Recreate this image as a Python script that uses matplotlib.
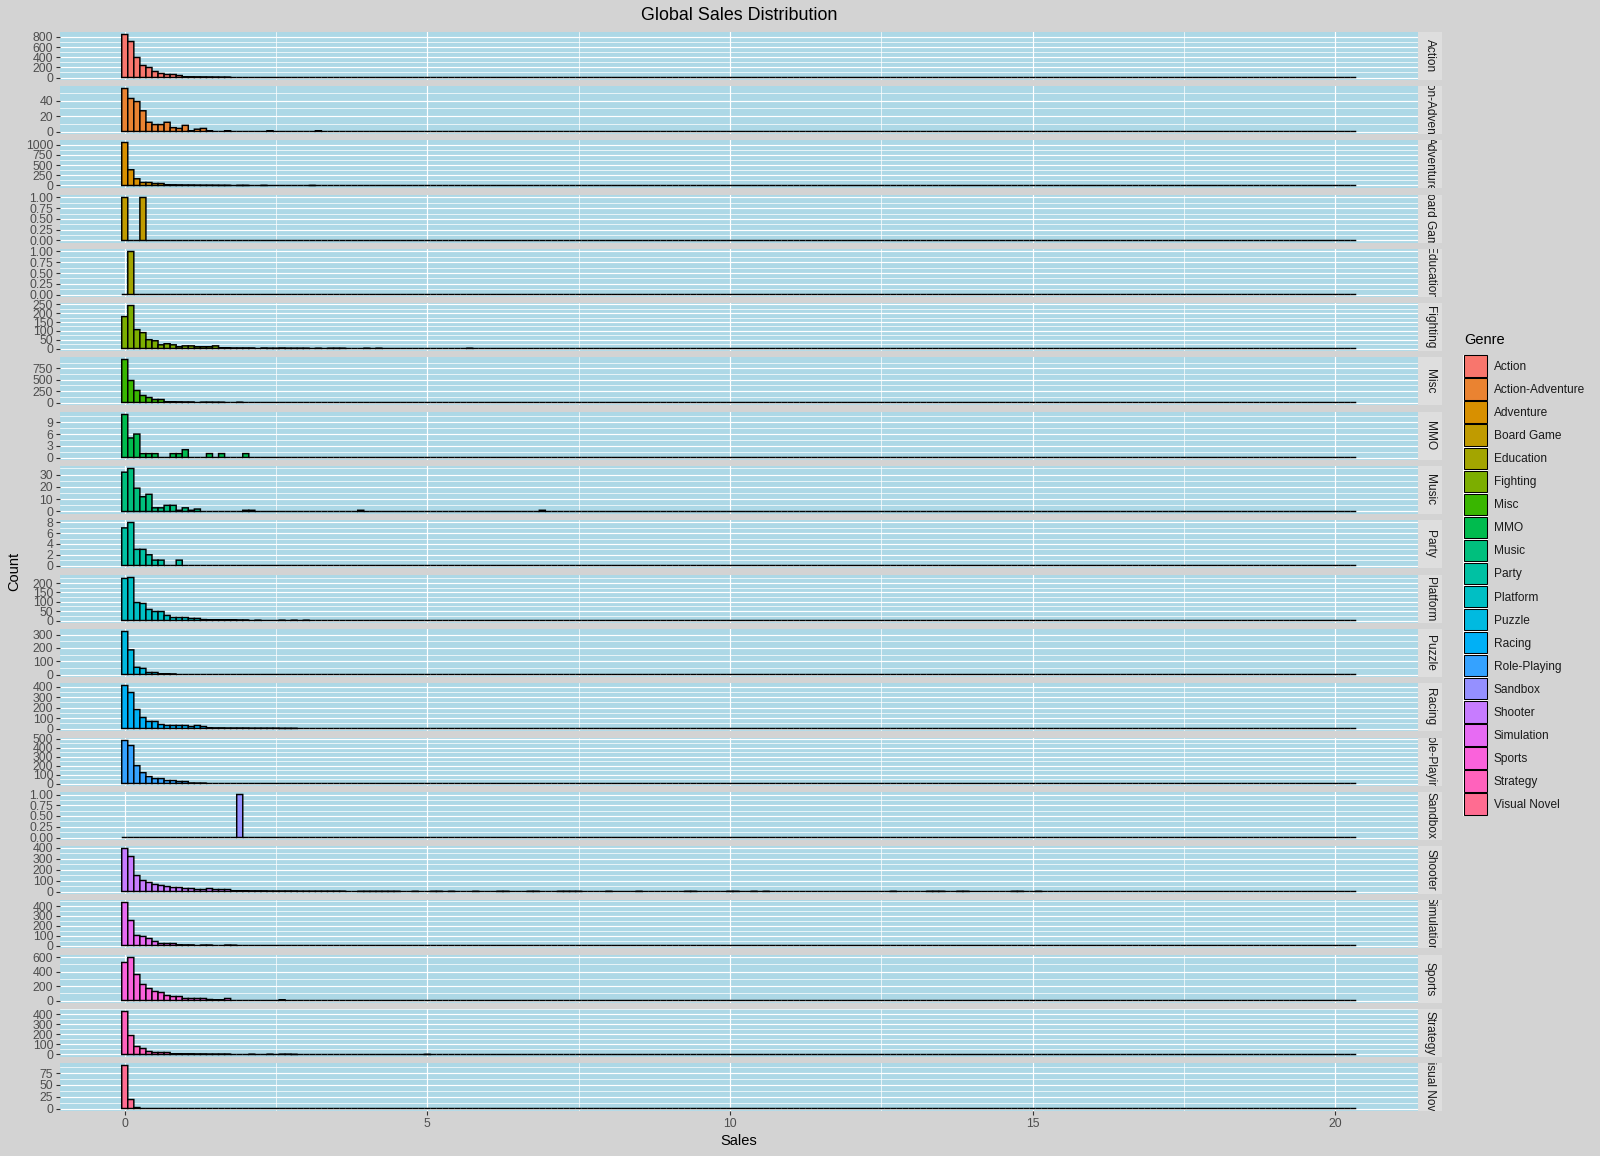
"""
Global sales distribution - faceted histogram per genre (ggplot-like look)
"""
import numpy as np
import matplotlib
matplotlib.use('Agg')
import matplotlib.pyplot as plt
from matplotlib.ticker import MultipleLocator, FormatStrFormatter
from matplotlib.patches import Rectangle

plt.rcParams['font.family'] = ['Liberation Sans', 'DejaVu Sans']

# ---- data: histogram counts per 0.1 sales bin (bin k centred at k*0.1) ----
BIN_WIDTH = 0.1
N_BINS = 204  # last bin centred at 20.3

genres = ['Action', 'Action-Adventure', 'Adventure', 'Board Game', 'Education',
          'Fighting', 'Misc', 'MMO', 'Music', 'Party', 'Platform', 'Puzzle',
          'Racing', 'Role-Playing', 'Sandbox', 'Shooter', 'Simulation', 'Sports',
          'Strategy', 'Visual Novel']

genre_colors = ['#F8766D', '#EA8331', '#D89000', '#C09B00', '#A3A500', '#7CAE00',
                '#39B600', '#00BB4E', '#00BF7D', '#00C1A3', '#00BFC4', '#00BAE0',
                '#00B0F6', '#35A2FF', '#9590FF', '#C77CFF', '#E76BF3', '#FA62DB',
                '#FF62BC', '#FF6C91']

# y tick spacing per facet
tick_steps = [200, 20, 250, 0.25, 0.25, 50, 250, 3, 10, 2,
              50, 100, 100, 100, 0.25, 100, 100, 200, 100, 25]

# leading bins (from 0) and sparse bins further out {bin index: count}
action_counts = [846, 708, 394, 236, 197, 118, 79, 59, 59, 39, 12, 10, 9, 8, 7, 6, 5, 5]
action_tail = {}

action_adventure_counts = [56, 43, 39, 27, 12, 9, 9, 12, 5, 4, 8, 1, 3, 4, 1, 0, 0, 1]
action_adventure_tail = {24: 1, 32: 1}

adventure_counts = [1050, 385, 164, 74, 74, 49, 49, 15, 12, 10, 8, 8, 6, 5, 5, 4, 3, 3,
                    0, 2, 2, 0, 0, 2]
adventure_tail = {31: 1}

board_game_counts = [1, 0, 0, 1]
board_game_tail = {}

education_counts = [0, 1]
education_tail = {}

fighting_counts = [181, 244, 107, 90, 50, 44, 21, 27, 21, 10, 15, 15, 10, 10, 10, 15,
                   3, 3, 2, 2, 2, 2, 0, 2, 1, 1, 2, 1, 1, 1, 1, 0, 1, 0, 1, 1, 1]
fighting_tail = {40: 1, 42: 1, 57: 1}

misc_counts = [948, 485, 265, 154, 110, 66, 66, 15, 12, 10, 8, 8, 0, 5, 5, 4, 4, 0, 0, 4]
misc_tail = {}

mmo_counts = [11, 5, 6, 1, 1, 1, 0, 0, 1, 1, 2, 0, 0, 0, 1, 0, 1, 0, 0, 0, 1]
mmo_tail = {}

music_counts = [32, 35, 19, 12, 14, 3, 3, 5, 5, 1, 3, 1, 2, 0, 0, 0, 0, 0, 0, 0, 1, 1]
music_tail = {39: 1, 69: 1}

party_counts = [7, 8, 3, 3, 2, 1, 1, 0, 0, 1]
party_tail = {}

platform_counts = [225, 230, 96, 91, 59, 48, 48, 27, 16, 16, 16, 11, 11,
                   5, 4, 4, 3, 3, 3, 2, 2]
platform_tail = {22: 1, 26: 1, 28: 1, 30: 1}

puzzle_counts = [323, 185, 54, 46, 15, 15, 5, 4, 3]
puzzle_tail = {}

racing_counts = [410, 343, 181, 105, 67, 67, 38, 29, 29, 29, 29, 19, 29, 19,
                 5, 4, 4, 3, 3, 3, 3, 2, 2, 2, 2, 2, 1, 1, 1]
racing_tail = {}

role_playing_counts = [480, 424, 199, 121, 77, 55, 55, 33, 33, 22, 22, 4, 3, 3]
role_playing_tail = {}

sandbox_counts = []
sandbox_tail = {19: 1}

shooter_counts = [391, 318, 145, 100, 82, 64, 55, 45, 36, 36, 27, 27, 18, 18, 27, 18, 18, 18,
                  6, 5, 5, 4, 4, 4, 3, 3, 3, 3, 3, 2, 2, 2, 2, 2, 2, 2, 2]
shooter_tail = {39: 1, 40: 1, 41: 1, 42: 1, 43: 1, 44: 1, 45: 1, 48: 1, 51: 1, 52: 1,
                54: 1, 58: 1, 62: 1, 63: 1, 67: 1, 68: 1, 72: 1, 73: 1, 74: 1, 75: 1,
                80: 1, 85: 1, 93: 1, 94: 1, 100: 1, 101: 1, 104: 1, 106: 1, 127: 1,
                133: 1, 134: 1, 135: 1, 138: 1, 139: 1, 147: 1, 148: 1, 151: 1}

simulation_counts = [437, 254, 102, 92, 71, 41, 20, 20, 20, 5, 4, 4, 0, 3, 3, 0, 0, 3, 2]
simulation_tail = {}

sports_counts = [527, 596, 360, 222, 166, 125, 111, 69, 55, 55, 28, 28, 28, 28, 14, 10, 10, 28]
sports_tail = {26: 10}

strategy_counts = [430, 190, 80, 60, 30, 20, 20, 20, 7, 6, 5, 5, 4, 4, 3, 3, 3, 3]
strategy_tail = {21: 2, 24: 2, 26: 2, 27: 2, 28: 1, 50: 1}

visual_novel_counts = [91, 19, 2]
visual_novel_tail = {}

head_counts = [action_counts, action_adventure_counts, adventure_counts, board_game_counts,
               education_counts, fighting_counts, misc_counts, mmo_counts, music_counts,
               party_counts, platform_counts, puzzle_counts, racing_counts,
               role_playing_counts, sandbox_counts, shooter_counts, simulation_counts,
               sports_counts, strategy_counts, visual_novel_counts]
tail_counts = [action_tail, action_adventure_tail, adventure_tail, board_game_tail,
               education_tail, fighting_tail, misc_tail, mmo_tail, music_tail,
               party_tail, platform_tail, puzzle_tail, racing_tail,
               role_playing_tail, sandbox_tail, shooter_tail, simulation_tail,
               sports_tail, strategy_tail, visual_novel_tail]

# ---- layout (pixels) ----
W, H = 1600, 1156
BG = '#D3D3D3'
PANEL_BG = '#ADD8E6'
STRIP_BG = '#DEDEDE'
PANEL_L, PANEL_R = 60, 1418
PANEL_T = 32
PANEL_H = 47.3
GAP = 7
STRIP_W = 24
Y_EXPAND = 0.05


def fig_rect(x0, y0, w, h):
    return [x0 / W, 1 - (y0 + h) / H, w / W, h / H]


fig = plt.figure(figsize=(W / 100, H / 100), dpi=100, facecolor=BG)

centers = np.arange(N_BINS) * BIN_WIDTH
x_lo = centers[0] - BIN_WIDTH / 2
x_hi = centers[-1] + BIN_WIDTH / 2
x_pad = 0.05 * (x_hi - x_lo)

for i, genre in enumerate(genres):
    top = PANEL_T + i * (PANEL_H + GAP)
    # nudge the panel so its zero line sits on a pixel centre (crisp baseline)
    base_px = H - (top + PANEL_H) + PANEL_H * Y_EXPAND / (1 + 2 * Y_EXPAND)
    top += (base_px % 1) - 0.5

    ax = fig.add_axes(fig_rect(PANEL_L, top, PANEL_R - PANEL_L, PANEL_H))
    ax.set_facecolor(PANEL_BG)
    for s in ax.spines.values():
        s.set_visible(False)

    counts = np.zeros(N_BINS)
    head = head_counts[i]
    counts[:len(head)] = head
    for b, c in tail_counts[i].items():
        counts[b] = c

    bars = ax.bar(centers, counts, width=BIN_WIDTH, color=genre_colors[i],
                  edgecolor='black', linewidth=1.05, zorder=3)
    for p in bars:
        p.set_snap(False)

    ymax = counts.max()
    ax.set_ylim(-Y_EXPAND * ymax, (1 + Y_EXPAND) * ymax)
    ax.set_xlim(x_lo - x_pad, x_hi + x_pad)

    step = tick_steps[i]
    ax.yaxis.set_major_locator(MultipleLocator(step))
    ax.yaxis.set_minor_locator(MultipleLocator(step / 2))
    ax.yaxis.set_major_formatter(FormatStrFormatter('%.2f' if step < 1 else '%d'))
    ax.xaxis.set_major_locator(MultipleLocator(5))
    ax.xaxis.set_minor_locator(MultipleLocator(2.5))

    ax.set_axisbelow(True)
    ax.grid(which='major', color='white', linewidth=0.85)
    ax.grid(which='minor', color='white', linewidth=0.5)
    ax.tick_params(which='minor', length=0)
    ax.tick_params(which='major', length=2.75, width=0.8, color='#333333',
                   labelsize=8.8, labelcolor='#4D4D4D', pad=2.2)
    if i < len(genres) - 1:
        ax.tick_params(axis='x', which='both', bottom=False, labelbottom=False)

    # facet strip on the right
    sx = fig.add_axes(fig_rect(PANEL_R, top, STRIP_W, PANEL_H))
    sx.set_facecolor(STRIP_BG)
    sx.set_xticks([])
    sx.set_yticks([])
    for s in sx.spines.values():
        s.set_visible(False)
    sx.text(0.5, 0.5, genre, rotation=270, ha='center', va='center',
            transform=sx.transAxes, clip_on=True, fontsize=8.6, color='#1A1A1A')

# titles
fig.text((PANEL_L + PANEL_R) / 2 / W, 1 - 15.5 / H, 'Global Sales Distribution',
         ha='center', va='center', fontsize=12.9, color='black')
fig.text((PANEL_L + PANEL_R) / 2 / W, 1 - 1141 / H, 'Sales',
         ha='center', va='center', fontsize=10.5, color='black')
fig.text(14 / W, 1 - 571.5 / H, 'Count', rotation=90,
         ha='center', va='center', fontsize=10.5, color='black')

# legend, drawn in pixel space
ov = fig.add_axes([0, 0, 1, 1])
ov.set_xlim(0, W)
ov.set_ylim(H, 0)
ov.axis('off')
ov.patch.set_visible(False)

LEG_X = 1464
LEG_T = 354.5
KEY_H = 23.05
KEY_W = 22.5
ov.text(LEG_X, 340, 'Genre', ha='left', va='center', fontsize=10.5, color='black')
ov.add_patch(Rectangle((LEG_X - 1, LEG_T), KEY_W + 2, KEY_H * len(genres),
                       facecolor='white', edgecolor='none'))
for j, (genre, col) in enumerate(zip(genres, genre_colors)):
    ky = LEG_T + j * KEY_H
    ov.add_patch(Rectangle((LEG_X, ky + 0.8), KEY_W, KEY_H - 1.6,
                           facecolor=col, edgecolor='black', linewidth=0.75))
    ov.text(LEG_X + 30, ky + KEY_H / 2 + 1, genre, ha='left', va='center',
            fontsize=8.6, color='#1A1A1A')

fig.savefig('out.png', dpi=100, facecolor=BG)
